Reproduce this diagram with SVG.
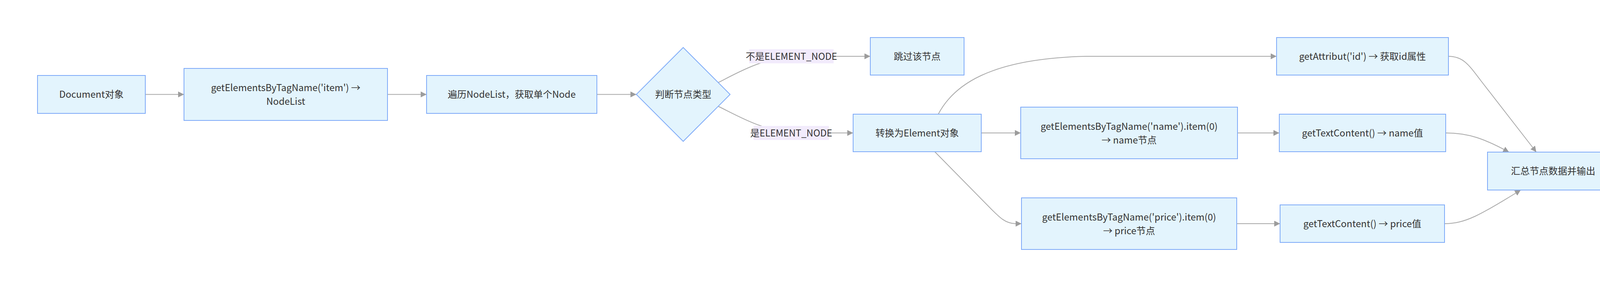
<svg xmlns="http://www.w3.org/2000/svg" width="4240" height="734" viewBox="0 0 4240 734">
<style>
.n rect, .n polygon { fill:#e3f4fd; stroke:#7eaaf8; stroke-width:2; }
text { font-family:"Noto Sans CJK SC","Noto Sans",sans-serif; font-size:24px; fill:#333333; text-anchor:middle; }
.e path { fill:none; stroke:#a8a8a8; stroke-width:2; }
.lb { fill:#f2ebfc; }
</style>
<defs>
<marker id="ah" markerWidth="15" markerHeight="15" refX="15" refY="7.5" orient="auto" markerUnits="userSpaceOnUse">
<path d="M0,0 L15,7.5 L0,15 z" fill="#9c9c9c"/>
</marker>
</defs>
<rect width="4240" height="734" fill="#ffffff"/>
<g id="edges" class="e">
<path d="M372,241.5 L471,241.5" marker-end="url(#ah)"/>
<path d="M992,241.5 L1092,241.5" marker-end="url(#ah)"/>
<path d="M1528,241.5 L1629,241.5" marker-end="url(#ah)"/>
<path d="M1839,211 C1890,185 1950,150 2030,144 L2228,144" marker-end="url(#ah)"/>
<path d="M1839,272 C1890,297 1950,333 2030,340 L2184,340" marker-end="url(#ah)"/>
<path d="M2402,292 C2440,220 2530,150 2780,144 L3268,144" marker-end="url(#ah)"/>
<path d="M2512,340 L2613,340" marker-end="url(#ah)"/>
<path d="M2393,388 L2530,527 C2560,558 2575,572 2600,572 L2615,572" marker-end="url(#ah)"/>
<path d="M3168,340 L3275,340" marker-end="url(#ah)"/>
<path d="M3166,572 L3277,572" marker-end="url(#ah)"/>
<path d="M3708,144 C3745,144 3760,165 3790,205 L3933,389" marker-end="url(#ah)"/>
<path d="M3701,340 C3760,340 3800,355 3863,389" marker-end="url(#ah)"/>
<path d="M3699,572 C3750,572 3790,550 3893,486" marker-end="url(#ah)"/>
<g id="edge-labels">
<rect class="lb" x="1918" y="126" width="216" height="36"/>
<text x="2026" y="152.5">不是ELEMENT_NODE</text>
<rect class="lb" x="1929" y="322" width="193" height="36"/>
<text x="2025.5" y="348.5">是ELEMENT_NODE</text>
</g>
</g>
<g id="A" class="n"><rect x="96" y="193" width="276" height="97"/><text x="234" y="250">Document对象</text></g>
<g id="B" class="n"><rect x="471" y="175" width="521" height="133"/><text x="731.5" y="233">getElementsByTagName('item') →</text><text x="731.5" y="268">NodeList</text></g>
<g id="C" class="n"><rect x="1092" y="193" width="436" height="97"/><text x="1310" y="250">遍历NodeList，获取单个Node</text></g>
<g id="D" class="n"><polygon points="1749,121.5 1869,241.5 1749,361.5 1629,241.5"/><text x="1749" y="250">判断节点类型</text></g>
<g id="E" class="n"><rect x="2228" y="96" width="240" height="96"/><text x="2348" y="152.5">跳过该节点</text></g>
<g id="F" class="n"><rect x="2184" y="292" width="328" height="96"/><text x="2348" y="348.5">转换为Element对象</text></g>
<g id="G" class="n"><rect x="2613" y="274" width="555" height="132"/><text x="2890.5" y="331.5">getElementsByTagName('name').item(0)</text><text x="2890.5" y="366.5">→ name节点</text></g>
<g id="H" class="n"><rect x="2615" y="506" width="551" height="132"/><text x="2890.5" y="563.5">getElementsByTagName('price').item(0)</text><text x="2890.5" y="598.5">→ price节点</text></g>
<g id="I" class="n"><rect x="3268" y="96" width="440" height="96"/><text x="3488" y="152.5">getAttribut('id') → 获取id属性</text></g>
<g id="J" class="n"><rect x="3275" y="292" width="426" height="96"/><text x="3488" y="348.5">getTextContent() → name值</text></g>
<g id="K" class="n"><rect x="3277" y="524" width="421" height="96"/><text x="3487.5" y="580.5">getTextContent() → price值</text></g>
<g id="L" class="n"><rect x="3808" y="389" width="336" height="97"/><text x="3976" y="446">汇总节点数据并输出</text></g>
</svg>
